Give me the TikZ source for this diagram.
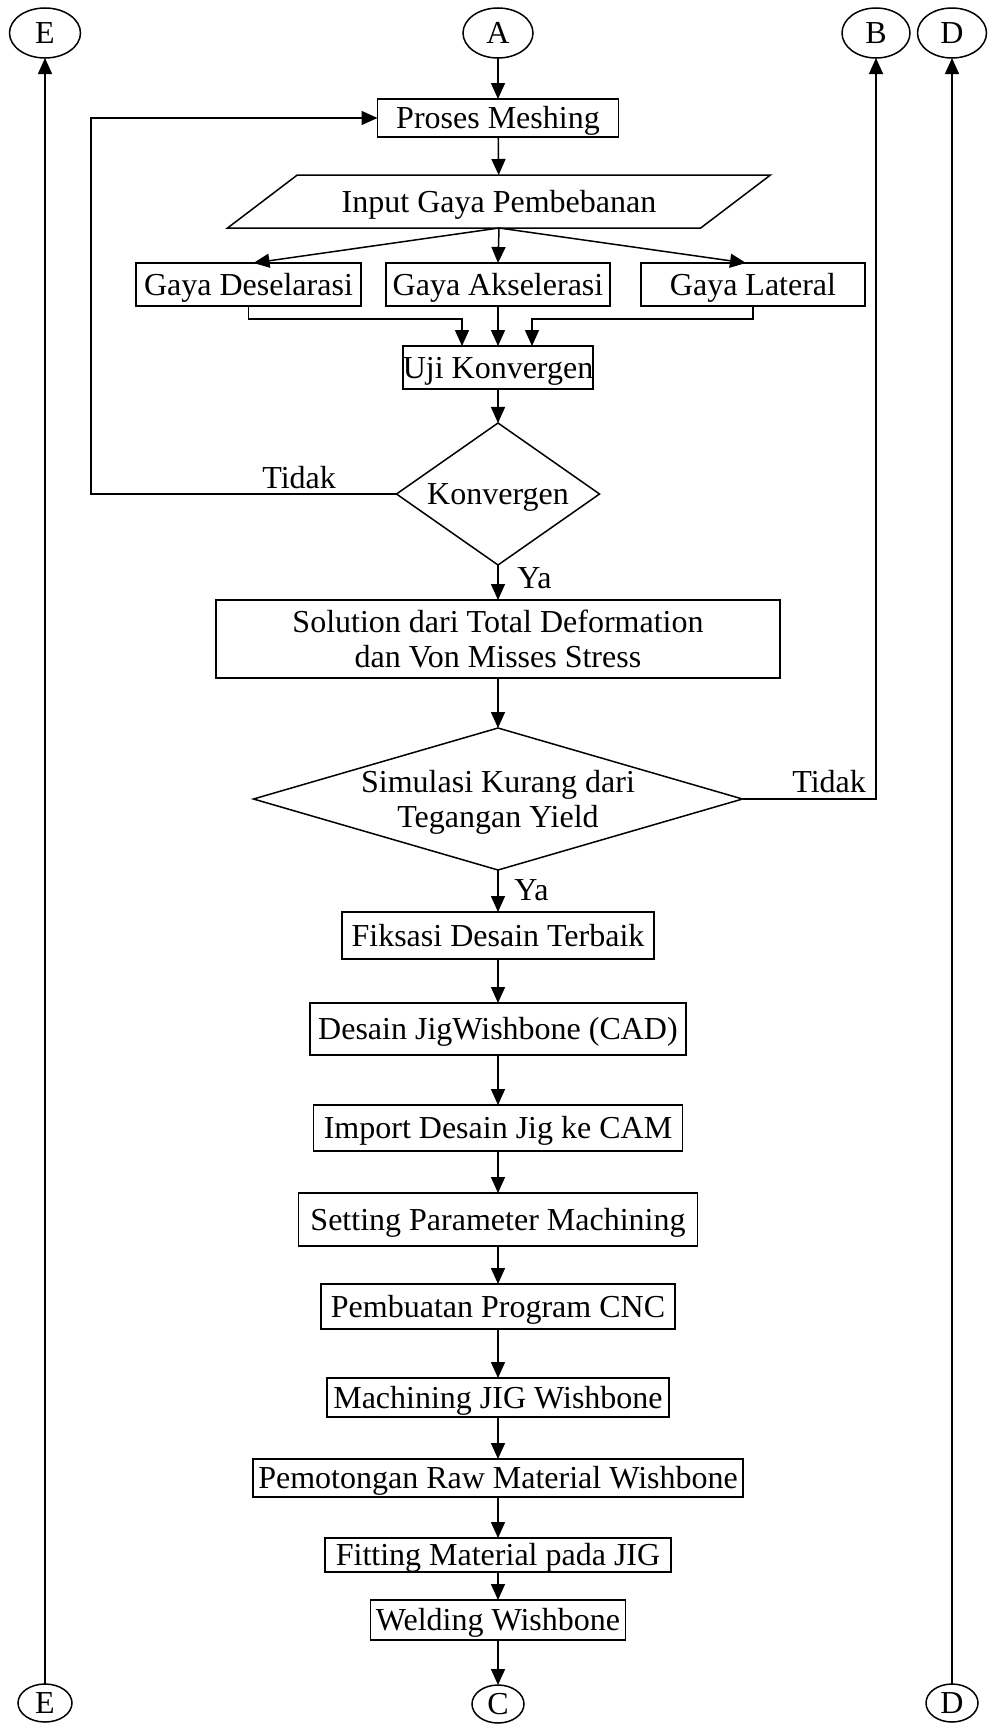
\documentclass[tikz,border=0pt]{standalone}
\usepackage{fontspec}
\setmainfont{Liberation Serif}
\usetikzlibrary{arrows.meta,shapes.geometric,calc}
\begin{document}
\begin{tikzpicture}[x=0.5pt,y=-0.5pt,
  every node/.style={font=\fontsize{16}{17.5}\selectfont},
  base/.style={draw, line width=0.75pt, inner sep=0pt, outer sep=0pt},
  capc/.style={text height=10.6pt, text depth=0pt},
  capc2/.style={align=center, text height=28.1pt, text depth=0pt},
  box/.style={base, rectangle, capc},
  wh/.style 2 args={minimum width=#1*0.5pt, minimum height=#2*0.5pt},
  conn/.style={base, ellipse, capc},
  arr/.style={-{Triangle[length=8pt,width=7pt]}, line width=0.75pt},
  lbl/.style={anchor=base west, inner sep=0pt}
]
\useasboundingbox (0,0) rectangle (989,1724);
% connectors (circles)
\node[conn, wh={71}{50}] (Et) at (45,33) {E};
\node[conn, wh={70}{50}] (A) at (498,33) {A};
\node[conn, wh={68}{50}] (B) at (876,33) {B};
\node[conn, wh={69}{50}] (Dt) at (952,33) {D};
\node[conn, wh={54}{38}] (Eb) at (45,1703) {E};
\node[conn, wh={52}{38}] (C) at (498,1704) {C};
\node[conn, wh={52}{38}] (Db) at (952,1703) {D};
% process nodes
\node[box, wh={241}{38}] (pm) at (498,118) {Proses Meshing};
\node[base, trapezium, trapezium left angle=21.3, trapezium right angle=158.7,
      trapezium stretches=true, wh={544}{53}, capc]
      (in) at (499,201.5) {Input Gaya Pembebanan};
\node[box, wh={225}{43}] (des) at (248.5,284.5) {Gaya Deselarasi};
\node[box, wh={224}{43}] (aks) at (498,284.5) {Gaya Akselerasi};
\node[box, wh={224}{43}] (lat) at (753,284.5) {Gaya Lateral};
\node[box, wh={190}{43}] (uji) at (498,367.5) {Uji Konvergen};
\node[base, diamond, aspect=1.43, wh={203}{142}, capc]
      (konv) at (498,494) {Konvergen};
\node[base, rectangle, capc2, wh={564}{78}] (sol) at (498,639)
      {Solution dari Total Deformation\\dan Von Misses Stress};
\node[base, diamond, aspect=3.44, capc2, wh={489}{142}] (sim) at (498,799)
      {Simulasi Kurang dari\\Tegangan Yield};
\node[box, wh={312}{47}] (fik) at (498,935.5) {Fiksasi Desain Terbaik};
\node[box, wh={376}{52}] (cad) at (498,1029) {Desain JigWishbone (CAD)};
\node[box, wh={369}{46}] (imp) at (498,1128) {Import Desain Jig ke CAM};
\node[box, wh={399}{53}] (set) at (498,1219.5) {Setting Parameter Machining};
\node[box, wh={354}{45}] (pem) at (498,1306.5) {Pembuatan Program CNC};
\node[box, wh={342}{39}] (mac) at (498,1397.5) {Machining JIG Wishbone};
\node[box, wh={490}{38}] (pot) at (498,1478) {Pemotongan Raw Material Wishbone};
\node[box, wh={346}{34}] (fit) at (498,1555) {Fitting Material pada JIG};
\node[box, wh={255}{40}] (wel) at (498,1620) {Welding Wishbone};
% labels
\node[lbl] (t1) at (262,488) {Tidak};
\node[lbl] (y1) at (517,588) {Ya};
\node[lbl] (t2) at (792,792) {Tidak};
\node[lbl] (y2) at (514,900) {Ya};
% arrows
\draw[arr] (A) -- (pm);
\draw[arr] (pm) -- (in);
\draw[arr] (in.south) -- ([xshift=2.5pt]des.north);
\draw[arr] (in.south) -- (aks.north);
\draw[arr] (in.south) -- ([xshift=-3.5pt]lat.north);
\draw[arr] (des.south) -- ++(0,13) -| ([xshift=-18pt]uji.north);
\draw[arr] (aks) -- (uji);
\draw[arr] (lat.south) -- ++(0,13) -| ([xshift=17pt]uji.north);
\draw[arr] (uji) -- (konv);
\coordinate (lx) at (91,494);
\draw[arr] (konv.west) -- (lx) |- (pm.west);
\draw[arr] (konv) -- (sol);
\draw[arr] (sol) -- (sim);
\draw[arr] (sim.east) -| (B);
\draw[arr] (sim) -- (fik);
\draw[arr] (fik) -- (cad);
\draw[arr] (cad) -- (imp);
\draw[arr] (imp) -- (set);
\draw[arr] (set) -- (pem);
\draw[arr] (pem) -- (mac);
\draw[arr] (mac) -- (pot);
\draw[arr] (pot) -- (fit);
\draw[arr] (fit) -- (wel);
\draw[arr] (wel) -- (C);
\draw[arr] (Eb) -- (Et);
\draw[arr] (Db) -- (Dt);
\end{tikzpicture}
\end{document}
